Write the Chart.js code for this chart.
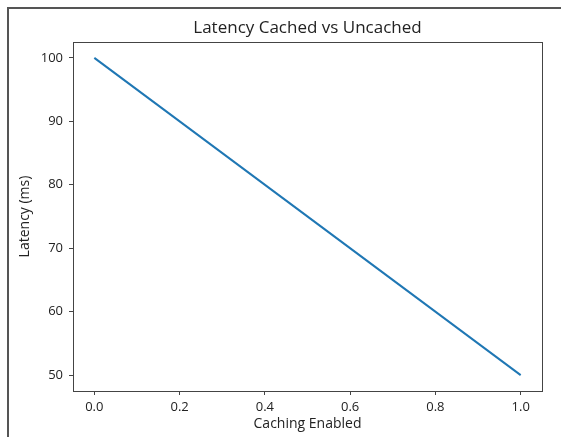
<!DOCTYPE html>
<html>
<head>
<meta charset="utf-8">
<script src="https://cdn.jsdelivr.net/npm/chart.js@4/dist/chart.umd.min.js"></script>
<style>
  html, body { margin: 0; padding: 0; background: #fff; }
  #wrap { position: relative; width: 561px; height: 437px; }
</style>
</head>
<body>
<div id="wrap"><canvas id="c" width="561" height="437"></canvas></div>
<script>
const chartTitle = 'Latency Cached vs Uncached';
const cachingEnabled = [0, 1];
const latencyMs = [100, 50];
const xTickValues = [0.0, 0.2, 0.4, 0.6, 0.8, 1.0];
const yTickValues = [50, 60, 70, 80, 90, 100];

const FONT = "'Open Sans', 'DejaVu Sans', sans-serif";
const TEXT = '#222';
const AXIS = '#444';

const framePlugin = {
  id: 'frame',
  beforeDraw(chart) {
    const ctx = chart.ctx;
    ctx.save();
    ctx.strokeStyle = '#555';
    ctx.lineWidth = 2;
    ctx.beginPath();
    ctx.moveTo(8, 437);
    ctx.lineTo(8, 8);
    ctx.lineTo(561, 8);
    ctx.stroke();
    ctx.restore();
  },
  afterDatasetsDraw(chart) {
    const a = chart.chartArea;
    const ctx = chart.ctx;
    ctx.save();
    ctx.strokeStyle = AXIS;
    ctx.lineWidth = 1;
    ctx.strokeRect(Math.round(a.left) + 0.5, Math.round(a.top) + 0.5,
                   Math.round(a.right - a.left), Math.round(a.bottom - a.top));
    // axes title centred over the plot area
    ctx.fillStyle = TEXT;
    ctx.font = '17px ' + FONT;
    ctx.textAlign = 'center';
    ctx.textBaseline = 'middle';
    ctx.fillText(chartTitle, (a.left + a.right) / 2, 28);
    ctx.restore();
  }
};

new Chart(document.getElementById('c'), {
  type: 'line',
  data: {
    datasets: [{
      data: cachingEnabled.map((x, i) => ({ x: x, y: latencyMs[i] })),
      borderColor: '#1f77b4',
      borderWidth: 2,
      pointRadius: 0,
      fill: false,
      tension: 0
    }]
  },
  options: {
    responsive: false,
    animation: false,
    layout: { padding: { left: 0, right: 19, top: 42, bottom: 0 } },
    plugins: {
      legend: { display: false },
      tooltip: { enabled: false },
      title: { display: false }
    },
    scales: {
      x: {
        type: 'linear',
        min: -0.05,
        max: 1.05,
        afterBuildTicks(axis) { axis.ticks = xTickValues.map(v => ({ value: v })); },
        afterFit(axis) { axis.height = 46; },
        grid: { drawOnChartArea: false, drawTicks: true, tickLength: 4, color: AXIS, tickWidth: 1 },
        border: { display: true, color: AXIS, width: 1 },
        ticks: {
          color: TEXT,
          font: { family: FONT, size: 13 },
          padding: 4,
          maxRotation: 0,
          autoSkip: false,
          callback: v => Number(v).toFixed(1)
        },
        title: {
          display: true,
          text: 'Caching Enabled',
          color: TEXT,
          font: { family: FONT, size: 14 },
          padding: { top: 0, bottom: 5 }
        }
      },
      y: {
        type: 'linear',
        min: 47.5,
        max: 102.5,
        afterBuildTicks(axis) { axis.ticks = yTickValues.map(v => ({ value: v })); },
        afterFit(axis) { axis.width = 73; },
        grid: { drawOnChartArea: false, drawTicks: true, tickLength: 4, color: AXIS, tickWidth: 1 },
        border: { display: true, color: AXIS, width: 1 },
        ticks: {
          color: TEXT,
          font: { family: FONT, size: 13 },
          padding: 6,
          autoSkip: false,
          callback: v => String(v)
        },
        title: {
          display: true,
          text: 'Latency (ms)',
          color: TEXT,
          font: { family: FONT, size: 14 },
          padding: { top: 17, bottom: 0 }
        }
      }
    }
  },
  plugins: [framePlugin]
});
</script>
</body>
</html>
